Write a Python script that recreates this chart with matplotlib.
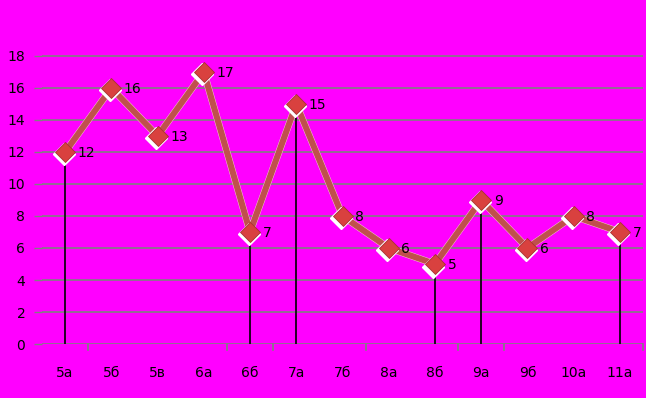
import matplotlib
matplotlib.use("Agg")
import matplotlib.pyplot as plt
from matplotlib.transforms import offset_copy
import numpy as np

categories = ["5а", "5б", "5в", "6а", "6б", "7а", "7б", "8а", "8б", "9а", "9б", "10а", "11а"]
values = [12, 16, 13, 17, 7, 15, 8, 6, 5, 9, 6, 8, 7]
drop_categories = ["5а", "6б", "7а", "8б", "9а", "11а"]
extra_tick_positions = [0.5, 3.5, 4.5, 6.5, 8.5, 9.5, 12.5]
yticks = [0, 2, 4, 6, 8, 10, 12, 14, 16, 18]

bg = "#ff00ff"
fig = plt.figure(figsize=(6.46, 3.98), dpi=100, facecolor=bg)
ax = fig.add_axes([42/646, (398-344)/398, (643-42)/646, (344-24)/398])
ax.set_facecolor(bg)
x = np.arange(len(categories))

ax.set_xlim(-0.5, len(categories) - 0.5)
ax.set_ylim(0, 20)
for s in ax.spines.values():
    s.set_visible(False)

ax.set_yticks(yticks)
ax.set_yticklabels([str(v) for v in yticks], fontsize=10, color="black")
ax.tick_params(axis="y", length=6, color="#808080", width=1, pad=6)
for yv in yticks:
    ax.axhline(yv, color="#808080", lw=1.2, zorder=1)

ax.set_xticks(x)
ax.set_xticklabels(categories, fontsize=10, color="black")
ax.tick_params(axis="x", length=0, pad=16)
for tp in extra_tick_positions:
    ax.plot([tp, tp], [0, -0.35], color="#808080", lw=1.2, clip_on=False, zorder=1)

# drop lines
for c in drop_categories:
    i = categories.index(c)
    ax.plot([i, i], [0, values[i]], color="black", lw=1.2, zorder=2)

# line
ax.plot(x, values, color="#f2d6d6", lw=5.0, zorder=3, solid_capstyle="butt")
ax.plot(x, values, color="#c0504d", lw=4.4, zorder=4, solid_capstyle="butt")

# marker shadows
shadow_tr = offset_copy(ax.transData, fig=fig, x=-1.5, y=-2.5, units="dots")
ax.plot(x, values, linestyle="none", marker="D", markersize=11, color="white",
        markeredgecolor="white", transform=shadow_tr, zorder=5)
ax.plot(x, values, linestyle="none", marker="D", markersize=10.5, color="#d9413f",
        markeredgecolor="#a83030", markeredgewidth=0.6, zorder=6)

for i, v in enumerate(values):
    ax.annotate(str(v), (i, v), xytext=(9, -1), textcoords="offset points",
                ha="left", va="center", fontsize=10, color="black", zorder=7)

fig.savefig("out.png", dpi=100, facecolor=bg)
